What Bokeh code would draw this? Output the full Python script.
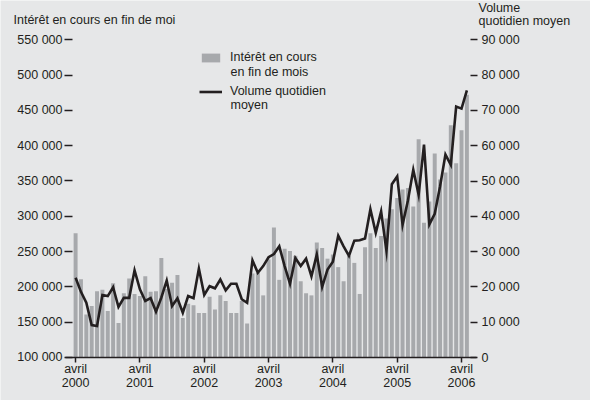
from bokeh.plotting import figure
from bokeh.models import (Range1d, LinearAxis, FixedTicker, Label, Legend,
                          LegendItem, ColumnDataSource)
from bokeh.embed import file_html
from bokeh.resources import INLINE

# ---- data (monthly, April 2000 .. May 2006) ----
open_interest = [276000, 211000, 161000, 173000, 194000, 196000, 166000, 205000, 149000, 191000,
                 212000, 190000, 187000, 215000, 193000, 194000, 241000, 197000, 206000, 217000,
                 156000, 176000, 174000, 163000, 163000, 186000, 168000, 188000, 180000, 163000,
                 163000, 180000, 148000, 219000, 220000, 188000, 239000, 284000, 210000, 254000,
                 251000, 244000, 208000, 191000, 188000, 263000, 255000, 240000, 246000, 228000,
                 208000, 244000, 234000, 190000, 256000, 276000, 255000, 272000, 297000, 310000,
                 326000, 338000, 340000, 314000, 409000, 291000, 321000, 389000, 352000, 362000,
                 429000, 375000, 422000, 472000]
daily_volume = [22600, 18600, 15500, 9200, 8900, 17700, 17400, 19900, 14300, 16900,
                16900, 24700, 19300, 16000, 16800, 13000, 17000, 21800, 14600, 16800,
                12700, 17400, 16800, 25200, 17700, 20200, 19600, 22100, 19000, 20900,
                20900, 16500, 15500, 27500, 24000, 25900, 28400, 29300, 31500, 25900,
                20900, 28200, 25900, 28000, 23000, 29200, 20000, 24900, 27100, 34500,
                31500, 28800, 33100, 33200, 33700, 42000, 35300, 41400, 30200, 49100,
                51300, 37600, 44500, 53200, 46100, 60300, 37700, 40700, 48500, 57500,
                54600, 71100, 70500, 75700]
month_index = list(range(len(open_interest)))

year_tick_pos = [0, 12, 24, 36, 48, 60, 72]
year_tick_labels = ["avril\n2000", "avril\n2001", "avril\n2002", "avril\n2003",
                    "avril\n2004", "avril\n2005", "avril\n2006"]
left_ticks = [100000, 150000, 200000, 250000, 300000, 350000, 400000, 450000, 500000, 550000]
left_labels = ["100 000", "150 000", "200 000", "250 000", "300 000", "350 000",
               "400 000", "450 000", "500 000", "550 000"]
right_ticks = [0, 10000, 20000, 30000, 40000, 50000, 60000, 70000, 80000, 90000]
right_labels = ["0", "10 000", "20 000", "30 000", "40 000", "50 000", "60 000",
                "70 000", "80 000", "90 000"]
oi_base = 100000

BG = "#e6e7e8"
BAR = "#a7a9ac"
INK = "#231f20"
FONT = "Liberation Sans"
FS = "12.5px"

W, H = 590, 400
src = ColumnDataSource(dict(x=month_index, oi=open_interest, vol=daily_volume))

# The plot frame covers the whole canvas; the axes are pinned with fixed_location
p = figure(width=W, height=H, output_backend="svg", toolbar_location=None,
           x_range=Range1d(-14.011, 96.063), y_range=Range1d(39093, 605665),
           min_border=0, min_border_left=0, min_border_right=0,
           min_border_top=0, min_border_bottom=0)
p.extra_y_ranges = {"vol": Range1d(-12181, 101133)}
p.background_fill_color = BG
p.border_fill_color = BG
p.outline_line_color = None
p.xgrid.visible = False
p.ygrid.visible = False

bars = p.vbar(x="x", top="oi", bottom=oi_base, width=0.74, source=src,
              fill_color=BAR, line_color=None)
line = p.line(x="x", y="vol", source=src, y_range_name="vol",
              line_color=INK, line_width=2.6, line_join="miter")

X_LEFT, X_RIGHT = -0.578, 73.675     # frame edges of the original chart, in month units


def style_axis(ax):
    ax.major_label_text_font = FONT
    ax.major_label_text_font_size = FS
    ax.major_label_text_color = INK
    ax.major_tick_line_color = INK
    ax.major_tick_line_width = 1.5
    ax.minor_tick_line_color = None
    ax.major_tick_in = 0


# bottom axis
xa = p.xaxis[0]
xa.fixed_location = oi_base
xa.bounds = (-1.88, 74.8)
xa.ticker = FixedTicker(ticks=year_tick_pos)
xa.major_label_overrides = dict(zip(year_tick_pos, year_tick_labels))
style_axis(xa)
xa.axis_line_color = INK
xa.axis_line_width = 1.6
xa.major_tick_out = 5
xa.major_label_standoff = 0
xa.major_label_text_line_height = 0.95

# left axis
ya = p.yaxis[0]
ya.fixed_location = X_LEFT
ya.ticker = FixedTicker(ticks=left_ticks)
ya.major_label_overrides = dict(zip(left_ticks, left_labels))
style_axis(ya)
ya.axis_line_color = None
ya.major_tick_out = 8
ya.major_label_standoff = 2

# right axis
ra = LinearAxis(y_range_name="vol", fixed_location=X_RIGHT)
ra.ticker = FixedTicker(ticks=right_ticks)
ra.major_label_overrides = dict(zip(right_ticks, right_labels))
style_axis(ra)
ra.axis_line_color = None
ra.major_tick_out = 7
ra.major_label_standoff = 4
p.add_layout(ra, "right")

# legend (first lines; second lines added as text below)
legend = Legend(items=[LegendItem(label="Intérêt en cours", renderers=[bars]),
                       LegendItem(label="Volume quotidien", renderers=[line])],
                location=(199, 302), orientation="vertical",
                glyph_width=23, glyph_height=11, label_standoff=8, spacing=20,
                padding=0, margin=0, background_fill_alpha=0, border_line_color=None,
                label_text_font=FONT, label_text_font_size=FS, label_text_color=INK)
p.add_layout(legend)


def add_text(txt, x, y_from_top):
    p.add_layout(Label(x=x, y=H - y_from_top, x_units="screen", y_units="screen", text=txt,
                       text_font=FONT, text_font_size=FS, text_color=INK,
                       text_align="left", text_baseline="middle"))


add_text("en fin de mois", 230, 71.7)
add_text("moyen", 230, 104.5)
add_text("Intérêt en cours en fin de moi", 13, 19.5)
add_text("Volume", 478, 7)
add_text("quotidien moyen", 478, 20)

open("out.html", "w").write(file_html(p, INLINE))
